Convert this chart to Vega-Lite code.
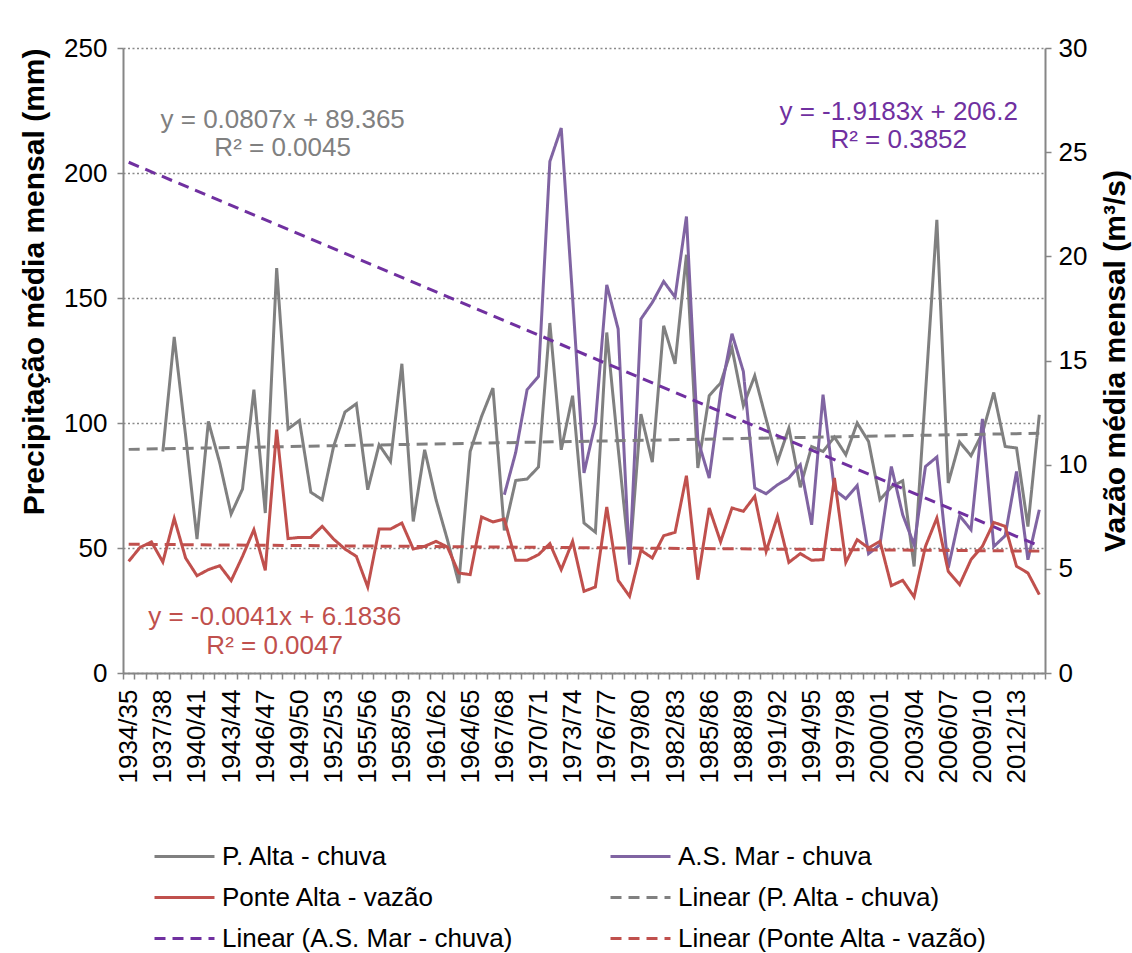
{
  "$schema": "https://vega.github.io/schema/vega-lite/v6.json",
  "width": 922,
  "height": 625,
  "autosize": {"type": "none"},
  "padding": {"left": 123, "top": 48, "right": 87, "bottom": 280},
  "background": "white",
  "config": {
    "font": "Liberation Sans",
    "view": {"stroke": null},
    "axis": {
      "labelFont": "Liberation Sans", "labelFontSize": 26, "labelColor": "#000000",
      "titleFont": "Liberation Sans", "titleFontSize": 30, "titleFontWeight": "bold", "titleColor": "#000000",
      "domainColor": "#868686", "domainWidth": 2, "tickColor": "#868686", "tickWidth": 1.5, "tickSize": 6
    },
    "text": {"font": "Liberation Sans", "fontSize": 26}
  },
  "datasets": {
    "chuva": [
      {"ano":"1937/38","serie":"P. Alta - chuva","valor":88.6},
      {"ano":"1938/39","serie":"P. Alta - chuva","valor":134.4},
      {"ano":"1939/40","serie":"P. Alta - chuva","valor":95},
      {"ano":"1940/41","serie":"P. Alta - chuva","valor":53.6},
      {"ano":"1941/42","serie":"P. Alta - chuva","valor":100.6},
      {"ano":"1942/43","serie":"P. Alta - chuva","valor":84},
      {"ano":"1943/44","serie":"P. Alta - chuva","valor":63.6},
      {"ano":"1944/45","serie":"P. Alta - chuva","valor":73.6},
      {"ano":"1945/46","serie":"P. Alta - chuva","valor":113.3},
      {"ano":"1946/47","serie":"P. Alta - chuva","valor":64},
      {"ano":"1947/48","serie":"P. Alta - chuva","valor":162},
      {"ano":"1948/49","serie":"P. Alta - chuva","valor":97.6},
      {"ano":"1949/50","serie":"P. Alta - chuva","valor":101},
      {"ano":"1950/51","serie":"P. Alta - chuva","valor":72.3},
      {"ano":"1951/52","serie":"P. Alta - chuva","valor":69.3},
      {"ano":"1952/53","serie":"P. Alta - chuva","valor":90.6},
      {"ano":"1953/54","serie":"P. Alta - chuva","valor":104.4},
      {"ano":"1954/55","serie":"P. Alta - chuva","valor":107.7},
      {"ano":"1955/56","serie":"P. Alta - chuva","valor":73.3},
      {"ano":"1956/57","serie":"P. Alta - chuva","valor":91.3},
      {"ano":"1957/58","serie":"P. Alta - chuva","valor":84.6},
      {"ano":"1958/59","serie":"P. Alta - chuva","valor":123.7},
      {"ano":"1959/60","serie":"P. Alta - chuva","valor":60.6},
      {"ano":"1960/61","serie":"P. Alta - chuva","valor":89.3},
      {"ano":"1961/62","serie":"P. Alta - chuva","valor":69.3},
      {"ano":"1962/63","serie":"P. Alta - chuva","valor":53.3},
      {"ano":"1963/64","serie":"P. Alta - chuva","valor":36},
      {"ano":"1964/65","serie":"P. Alta - chuva","valor":88.6},
      {"ano":"1965/66","serie":"P. Alta - chuva","valor":102.6},
      {"ano":"1966/67","serie":"P. Alta - chuva","valor":114},
      {"ano":"1967/68","serie":"P. Alta - chuva","valor":57},
      {"ano":"1968/69","serie":"P. Alta - chuva","valor":77},
      {"ano":"1969/70","serie":"P. Alta - chuva","valor":77.6},
      {"ano":"1970/71","serie":"P. Alta - chuva","valor":82.4},
      {"ano":"1971/72","serie":"P. Alta - chuva","valor":140},
      {"ano":"1972/73","serie":"P. Alta - chuva","valor":89.3},
      {"ano":"1973/74","serie":"P. Alta - chuva","valor":110.9},
      {"ano":"1974/75","serie":"P. Alta - chuva","valor":60},
      {"ano":"1975/76","serie":"P. Alta - chuva","valor":56.3},
      {"ano":"1976/77","serie":"P. Alta - chuva","valor":136.2},
      {"ano":"1977/78","serie":"P. Alta - chuva","valor":90},
      {"ano":"1978/79","serie":"P. Alta - chuva","valor":45},
      {"ano":"1979/80","serie":"P. Alta - chuva","valor":103.6},
      {"ano":"1980/81","serie":"P. Alta - chuva","valor":84.3},
      {"ano":"1981/82","serie":"P. Alta - chuva","valor":138.9},
      {"ano":"1982/83","serie":"P. Alta - chuva","valor":123.7},
      {"ano":"1983/84","serie":"P. Alta - chuva","valor":167.3},
      {"ano":"1984/85","serie":"P. Alta - chuva","valor":82},
      {"ano":"1985/86","serie":"P. Alta - chuva","valor":110.9},
      {"ano":"1986/87","serie":"P. Alta - chuva","valor":116},
      {"ano":"1987/88","serie":"P. Alta - chuva","valor":130},
      {"ano":"1988/89","serie":"P. Alta - chuva","valor":106.9},
      {"ano":"1989/90","serie":"P. Alta - chuva","valor":118.9},
      {"ano":"1990/91","serie":"P. Alta - chuva","valor":101.5},
      {"ano":"1991/92","serie":"P. Alta - chuva","valor":84.6},
      {"ano":"1992/93","serie":"P. Alta - chuva","valor":98},
      {"ano":"1993/94","serie":"P. Alta - chuva","valor":74.3},
      {"ano":"1994/95","serie":"P. Alta - chuva","valor":90.6},
      {"ano":"1995/96","serie":"P. Alta - chuva","valor":88.6},
      {"ano":"1996/97","serie":"P. Alta - chuva","valor":94.4},
      {"ano":"1997/98","serie":"P. Alta - chuva","valor":87.3},
      {"ano":"1998/99","serie":"P. Alta - chuva","valor":100},
      {"ano":"1999/00","serie":"P. Alta - chuva","valor":92.6},
      {"ano":"2000/01","serie":"P. Alta - chuva","valor":69.3},
      {"ano":"2001/02","serie":"P. Alta - chuva","valor":74.4},
      {"ano":"2002/03","serie":"P. Alta - chuva","valor":76.9},
      {"ano":"2003/04","serie":"P. Alta - chuva","valor":42.6},
      {"ano":"2004/05","serie":"P. Alta - chuva","valor":112},
      {"ano":"2005/06","serie":"P. Alta - chuva","valor":181.3},
      {"ano":"2006/07","serie":"P. Alta - chuva","valor":76},
      {"ano":"2007/08","serie":"P. Alta - chuva","valor":92.4},
      {"ano":"2008/09","serie":"P. Alta - chuva","valor":86.9},
      {"ano":"2009/10","serie":"P. Alta - chuva","valor":96},
      {"ano":"2010/11","serie":"P. Alta - chuva","valor":112.2},
      {"ano":"2011/12","serie":"P. Alta - chuva","valor":90.6},
      {"ano":"2012/13","serie":"P. Alta - chuva","valor":90},
      {"ano":"2013/14","serie":"P. Alta - chuva","valor":58.6},
      {"ano":"2014/15","serie":"P. Alta - chuva","valor":103.3},
      {"ano":"1967/68","serie":"A.S. Mar - chuva","valor":71.3},
      {"ano":"1968/69","serie":"A.S. Mar - chuva","valor":88.2},
      {"ano":"1969/70","serie":"A.S. Mar - chuva","valor":113.3},
      {"ano":"1970/71","serie":"A.S. Mar - chuva","valor":118.6},
      {"ano":"1971/72","serie":"A.S. Mar - chuva","valor":204.6},
      {"ano":"1972/73","serie":"A.S. Mar - chuva","valor":218},
      {"ano":"1973/74","serie":"A.S. Mar - chuva","valor":150},
      {"ano":"1974/75","serie":"A.S. Mar - chuva","valor":80},
      {"ano":"1975/76","serie":"A.S. Mar - chuva","valor":100},
      {"ano":"1976/77","serie":"A.S. Mar - chuva","valor":155.3},
      {"ano":"1977/78","serie":"A.S. Mar - chuva","valor":137.6},
      {"ano":"1978/79","serie":"A.S. Mar - chuva","valor":43.3},
      {"ano":"1979/80","serie":"A.S. Mar - chuva","valor":141.6},
      {"ano":"1980/81","serie":"A.S. Mar - chuva","valor":148.2},
      {"ano":"1981/82","serie":"A.S. Mar - chuva","valor":156.6},
      {"ano":"1982/83","serie":"A.S. Mar - chuva","valor":150.4},
      {"ano":"1983/84","serie":"A.S. Mar - chuva","valor":182.6},
      {"ano":"1984/85","serie":"A.S. Mar - chuva","valor":93.3},
      {"ano":"1985/86","serie":"A.S. Mar - chuva","valor":78},
      {"ano":"1986/87","serie":"A.S. Mar - chuva","valor":112},
      {"ano":"1987/88","serie":"A.S. Mar - chuva","valor":135.7},
      {"ano":"1988/89","serie":"A.S. Mar - chuva","valor":120.6},
      {"ano":"1989/90","serie":"A.S. Mar - chuva","valor":74},
      {"ano":"1990/91","serie":"A.S. Mar - chuva","valor":71.7},
      {"ano":"1991/92","serie":"A.S. Mar - chuva","valor":75.3},
      {"ano":"1992/93","serie":"A.S. Mar - chuva","valor":78},
      {"ano":"1993/94","serie":"A.S. Mar - chuva","valor":83.3},
      {"ano":"1994/95","serie":"A.S. Mar - chuva","valor":59.3},
      {"ano":"1995/96","serie":"A.S. Mar - chuva","valor":111.3},
      {"ano":"1996/97","serie":"A.S. Mar - chuva","valor":73.3},
      {"ano":"1997/98","serie":"A.S. Mar - chuva","valor":69.7},
      {"ano":"1998/99","serie":"A.S. Mar - chuva","valor":75},
      {"ano":"1999/00","serie":"A.S. Mar - chuva","valor":47.7},
      {"ano":"2000/01","serie":"A.S. Mar - chuva","valor":51.3},
      {"ano":"2001/02","serie":"A.S. Mar - chuva","valor":82.6},
      {"ano":"2002/03","serie":"A.S. Mar - chuva","valor":63.3},
      {"ano":"2003/04","serie":"A.S. Mar - chuva","valor":51.3},
      {"ano":"2004/05","serie":"A.S. Mar - chuva","valor":82.6},
      {"ano":"2005/06","serie":"A.S. Mar - chuva","valor":86.4},
      {"ano":"2006/07","serie":"A.S. Mar - chuva","valor":42},
      {"ano":"2007/08","serie":"A.S. Mar - chuva","valor":62.9},
      {"ano":"2008/09","serie":"A.S. Mar - chuva","valor":57.3},
      {"ano":"2009/10","serie":"A.S. Mar - chuva","valor":101.6},
      {"ano":"2010/11","serie":"A.S. Mar - chuva","valor":50.6},
      {"ano":"2011/12","serie":"A.S. Mar - chuva","valor":54.9},
      {"ano":"2012/13","serie":"A.S. Mar - chuva","valor":80.6},
      {"ano":"2013/14","serie":"A.S. Mar - chuva","valor":45.3},
      {"ano":"2014/15","serie":"A.S. Mar - chuva","valor":65.3},
      {"ano":"1934/35","serie":"Linear (P. Alta - chuva)","valor":89.45},
      {"ano":"2014/15","serie":"Linear (P. Alta - chuva)","valor":95.9},
      {"ano":"1934/35","serie":"Linear (A.S. Mar - chuva)","valor":204.3},
      {"ano":"2014/15","serie":"Linear (A.S. Mar - chuva)","valor":50.8}
    ],
    "vazao": [
      {"ano":"1934/35","serie":"Ponte Alta - vazão","valor":5.36},
      {"ano":"1935/36","serie":"Ponte Alta - vazão","valor":6.03},
      {"ano":"1936/37","serie":"Ponte Alta - vazão","valor":6.29},
      {"ano":"1937/38","serie":"Ponte Alta - vazão","valor":5.33},
      {"ano":"1938/39","serie":"Ponte Alta - vazão","valor":7.42},
      {"ano":"1939/40","serie":"Ponte Alta - vazão","valor":5.52},
      {"ano":"1940/41","serie":"Ponte Alta - vazão","valor":4.67},
      {"ano":"1941/42","serie":"Ponte Alta - vazão","valor":4.96},
      {"ano":"1942/43","serie":"Ponte Alta - vazão","valor":5.15},
      {"ano":"1943/44","serie":"Ponte Alta - vazão","valor":4.43},
      {"ano":"1944/45","serie":"Ponte Alta - vazão","valor":5.6},
      {"ano":"1945/46","serie":"Ponte Alta - vazão","valor":6.88},
      {"ano":"1946/47","serie":"Ponte Alta - vazão","valor":4.93},
      {"ano":"1947/48","serie":"Ponte Alta - vazão","valor":11.68},
      {"ano":"1948/49","serie":"Ponte Alta - vazão","valor":6.45},
      {"ano":"1949/50","serie":"Ponte Alta - vazão","valor":6.51},
      {"ano":"1950/51","serie":"Ponte Alta - vazão","valor":6.51},
      {"ano":"1951/52","serie":"Ponte Alta - vazão","valor":7.04},
      {"ano":"1952/53","serie":"Ponte Alta - vazão","valor":6.43},
      {"ano":"1953/54","serie":"Ponte Alta - vazão","valor":5.95},
      {"ano":"1954/55","serie":"Ponte Alta - vazão","valor":5.6},
      {"ano":"1955/56","serie":"Ponte Alta - vazão","valor":4.13},
      {"ano":"1956/57","serie":"Ponte Alta - vazão","valor":6.91},
      {"ano":"1957/58","serie":"Ponte Alta - vazão","valor":6.91},
      {"ano":"1958/59","serie":"Ponte Alta - vazão","valor":7.2},
      {"ano":"1959/60","serie":"Ponte Alta - vazão","valor":5.95},
      {"ano":"1960/61","serie":"Ponte Alta - vazão","valor":6.08},
      {"ano":"1961/62","serie":"Ponte Alta - vazão","valor":6.32},
      {"ano":"1962/63","serie":"Ponte Alta - vazão","valor":6.05},
      {"ano":"1963/64","serie":"Ponte Alta - vazão","valor":4.8},
      {"ano":"1964/65","serie":"Ponte Alta - vazão","valor":4.72},
      {"ano":"1965/66","serie":"Ponte Alta - vazão","valor":7.49},
      {"ano":"1966/67","serie":"Ponte Alta - vazão","valor":7.25},
      {"ano":"1967/68","serie":"Ponte Alta - vazão","valor":7.39},
      {"ano":"1968/69","serie":"Ponte Alta - vazão","valor":5.41},
      {"ano":"1969/70","serie":"Ponte Alta - vazão","valor":5.41},
      {"ano":"1970/71","serie":"Ponte Alta - vazão","valor":5.68},
      {"ano":"1971/72","serie":"Ponte Alta - vazão","valor":6.21},
      {"ano":"1972/73","serie":"Ponte Alta - vazão","valor":4.96},
      {"ano":"1973/74","serie":"Ponte Alta - vazão","valor":6.32},
      {"ano":"1974/75","serie":"Ponte Alta - vazão","valor":3.92},
      {"ano":"1975/76","serie":"Ponte Alta - vazão","valor":4.13},
      {"ano":"1976/77","serie":"Ponte Alta - vazão","valor":7.97},
      {"ano":"1977/78","serie":"Ponte Alta - vazão","valor":4.45},
      {"ano":"1978/79","serie":"Ponte Alta - vazão","valor":3.68},
      {"ano":"1979/80","serie":"Ponte Alta - vazão","valor":5.89},
      {"ano":"1980/81","serie":"Ponte Alta - vazão","valor":5.52},
      {"ano":"1981/82","serie":"Ponte Alta - vazão","valor":6.59},
      {"ano":"1982/83","serie":"Ponte Alta - vazão","valor":6.75},
      {"ano":"1983/84","serie":"Ponte Alta - vazão","valor":9.47},
      {"ano":"1984/85","serie":"Ponte Alta - vazão","valor":4.48},
      {"ano":"1985/86","serie":"Ponte Alta - vazão","valor":7.92},
      {"ano":"1986/87","serie":"Ponte Alta - vazão","valor":6.3},
      {"ano":"1987/88","serie":"Ponte Alta - vazão","valor":7.92},
      {"ano":"1988/89","serie":"Ponte Alta - vazão","valor":7.76},
      {"ano":"1989/90","serie":"Ponte Alta - vazão","valor":8.48},
      {"ano":"1990/91","serie":"Ponte Alta - vazão","valor":5.84},
      {"ano":"1991/92","serie":"Ponte Alta - vazão","valor":7.52},
      {"ano":"1992/93","serie":"Ponte Alta - vazão","valor":5.31},
      {"ano":"1993/94","serie":"Ponte Alta - vazão","valor":5.73},
      {"ano":"1994/95","serie":"Ponte Alta - vazão","valor":5.41},
      {"ano":"1995/96","serie":"Ponte Alta - vazão","valor":5.44},
      {"ano":"1996/97","serie":"Ponte Alta - vazão","valor":9.36},
      {"ano":"1997/98","serie":"Ponte Alta - vazão","valor":5.31},
      {"ano":"1998/99","serie":"Ponte Alta - vazão","valor":6.4},
      {"ano":"1999/00","serie":"Ponte Alta - vazão","valor":6.0},
      {"ano":"2000/01","serie":"Ponte Alta - vazão","valor":6.32},
      {"ano":"2001/02","serie":"Ponte Alta - vazão","valor":4.19},
      {"ano":"2002/03","serie":"Ponte Alta - vazão","valor":4.45},
      {"ano":"2003/04","serie":"Ponte Alta - vazão","valor":3.65},
      {"ano":"2004/05","serie":"Ponte Alta - vazão","valor":6.08},
      {"ano":"2005/06","serie":"Ponte Alta - vazão","valor":7.44},
      {"ano":"2006/07","serie":"Ponte Alta - vazão","valor":4.88},
      {"ano":"2007/08","serie":"Ponte Alta - vazão","valor":4.24},
      {"ano":"2008/09","serie":"Ponte Alta - vazão","valor":5.44},
      {"ano":"2009/10","serie":"Ponte Alta - vazão","valor":6.08},
      {"ano":"2010/11","serie":"Ponte Alta - vazão","valor":7.23},
      {"ano":"2011/12","serie":"Ponte Alta - vazão","valor":7.04},
      {"ano":"2012/13","serie":"Ponte Alta - vazão","valor":5.12},
      {"ano":"2013/14","serie":"Ponte Alta - vazão","valor":4.8},
      {"ano":"2014/15","serie":"Ponte Alta - vazão","valor":3.76},
      {"ano":"1934/35","serie":"Linear (Ponte Alta - vazão)","valor":6.18},
      {"ano":"2014/15","serie":"Linear (Ponte Alta - vazão)","valor":5.85}
    ]
  },
  "encoding": {
    "x": {
      "field": "ano", "type": "ordinal", "bandPosition": 0.5,
      "scale": {"type": "band", "paddingInner": 0, "paddingOuter": 0},
      "axis": {
        "title": null, "labelAngle": -90, "labelOverlap": false, "tickBand": "extent",
        "labelPadding": 10, "grid": false,
        "labelExpr": "((toNumber(slice(datum.label,0,4)) - 1934) % 3 == 0) ? datum.label : ''"
      }
    }
  },
  "layer": [
    {
      "layer": [
        {
          "data": {"name": "chuva"},
          "mark": {"type": "line", "strokeWidth": 3},
          "encoding": {
            "y": {
              "field": "valor", "type": "quantitative",
              "scale": {"domain": [0, 250], "nice": false, "zero": true},
              "axis": {
                "title": "Precipitação média mensal (mm)", "orient": "left", "titleAnchor": "end",
                "values": [0, 50, 100, 150, 200, 250], "labelPadding": 10, "titlePadding": 14,
                "grid": true, "gridColor": "#8a8a8a", "gridDash": [2, 2.5], "gridWidth": 1.3
              }
            },
            "color": {
              "field": "serie", "type": "nominal",
              "scale": {
                "domain": ["P. Alta - chuva", "A.S. Mar - chuva", "Ponte Alta - vazão", "Linear (P. Alta - chuva)", "Linear (A.S. Mar - chuva)", "Linear (Ponte Alta - vazão)"],
                "range": ["#808080", "#8064A2", "#C0504D", "#808080", "#7030A0", "#C0504D"]
              },
              "legend": {
                "title": null, "orient": "none", "legendX": 30, "legendY": 788, "columns": 2, "direction": "horizontal",
                "columnPadding": 96, "rowPadding": 0, "clipHeight": 41, "symbolType": "stroke", "symbolSize": 3600,
                "symbolStrokeWidth": 3, "labelFontSize": 26, "labelFont": "Liberation Sans",
                "labelColor": "#000000", "labelOffset": 6, "labelLimit": 600
              }
            },
            "strokeDash": {
              "field": "serie", "type": "nominal",
              "scale": {
                "domain": ["P. Alta - chuva", "A.S. Mar - chuva", "Ponte Alta - vazão", "Linear (P. Alta - chuva)", "Linear (A.S. Mar - chuva)", "Linear (Ponte Alta - vazão)"],
                "range": [[1, 0], [1, 0], [1, 0], [11, 7], [11, 7], [11, 7]]
              },
              "legend": {
                "title": null, "orient": "none", "legendX": 30, "legendY": 788, "columns": 2, "direction": "horizontal",
                "columnPadding": 96, "rowPadding": 0, "clipHeight": 41, "symbolType": "stroke", "symbolSize": 3600,
                "symbolStrokeWidth": 3, "labelFontSize": 26, "labelFont": "Liberation Sans",
                "labelColor": "#000000", "labelOffset": 6, "labelLimit": 600
              }
            }
          }
        },
        {
          "data": {"values": [
            {"ano": "1947/48", "valor": 221.3, "texto": "y = 0.0807x + 89.365"},
            {"ano": "1947/48", "valor": 210, "texto": "R² = 0.0045"}
          ]},
          "mark": {"type": "text", "color": "#808080", "dx": 6, "align": "center", "baseline": "middle", "fontSize": 26},
          "encoding": {"y": {"field": "valor", "type": "quantitative"}, "text": {"field": "texto"}}
        },
        {
          "data": {"values": [
            {"ano": "2002/03", "valor": 224.6, "texto": "y = -1.9183x + 206.2"},
            {"ano": "2002/03", "valor": 213.3, "texto": "R² = 0.3852"}
          ]},
          "mark": {"type": "text", "color": "#7030A0", "dx": -4, "align": "center", "baseline": "middle", "fontSize": 26},
          "encoding": {"y": {"field": "valor", "type": "quantitative"}, "text": {"field": "texto"}}
        },
        {
          "data": {"values": [
            {"ano": "1947/48", "valor": 22.5, "texto": "y = -0.0041x + 6.1836"},
            {"ano": "1947/48", "valor": 10.7, "texto": "R² = 0.0047"}
          ]},
          "mark": {"type": "text", "color": "#C0504D", "dx": -2, "align": "center", "baseline": "middle", "fontSize": 26},
          "encoding": {"y": {"field": "valor", "type": "quantitative"}, "text": {"field": "texto"}}
        }
      ]
    },
    {
      "data": {"name": "vazao"},
      "mark": {"type": "line", "strokeWidth": 3},
      "encoding": {
        "y": {
          "field": "valor", "type": "quantitative",
          "scale": {"domain": [0, 30], "nice": false, "zero": true},
          "axis": {
            "title": "Vazão média mensal (m³/s)", "orient": "right", "titleAngle": -90,
            "values": [0, 5, 10, 15, 20, 25, 30], "labelPadding": 7, "titlePadding": 44, "grid": false
          }
        },
        "color": {
          "field": "serie", "type": "nominal",
          "scale": {
            "domain": ["P. Alta - chuva", "A.S. Mar - chuva", "Ponte Alta - vazão", "Linear (P. Alta - chuva)", "Linear (A.S. Mar - chuva)", "Linear (Ponte Alta - vazão)"],
            "range": ["#808080", "#8064A2", "#C0504D", "#808080", "#7030A0", "#C0504D"]
          },
          "legend": {
            "title": null, "orient": "none", "legendX": 30, "legendY": 788, "columns": 2, "direction": "horizontal",
            "columnPadding": 96, "rowPadding": 0, "clipHeight": 41, "symbolType": "stroke", "symbolSize": 3600,
            "symbolStrokeWidth": 3, "labelFontSize": 26, "labelFont": "Liberation Sans",
            "labelColor": "#000000", "labelOffset": 6, "labelLimit": 600
          }
        },
        "strokeDash": {
          "field": "serie", "type": "nominal",
          "scale": {
            "domain": ["P. Alta - chuva", "A.S. Mar - chuva", "Ponte Alta - vazão", "Linear (P. Alta - chuva)", "Linear (A.S. Mar - chuva)", "Linear (Ponte Alta - vazão)"],
            "range": [[1, 0], [1, 0], [1, 0], [11, 7], [11, 7], [11, 7]]
          },
          "legend": {
            "title": null, "orient": "none", "legendX": 30, "legendY": 788, "columns": 2, "direction": "horizontal",
            "columnPadding": 96, "rowPadding": 0, "clipHeight": 41, "symbolType": "stroke", "symbolSize": 3600,
            "symbolStrokeWidth": 3, "labelFontSize": 26, "labelFont": "Liberation Sans",
            "labelColor": "#000000", "labelOffset": 6, "labelLimit": 600
          }
        }
      }
    }
  ],
  "resolve": {"scale": {"y": "independent"}}
}
